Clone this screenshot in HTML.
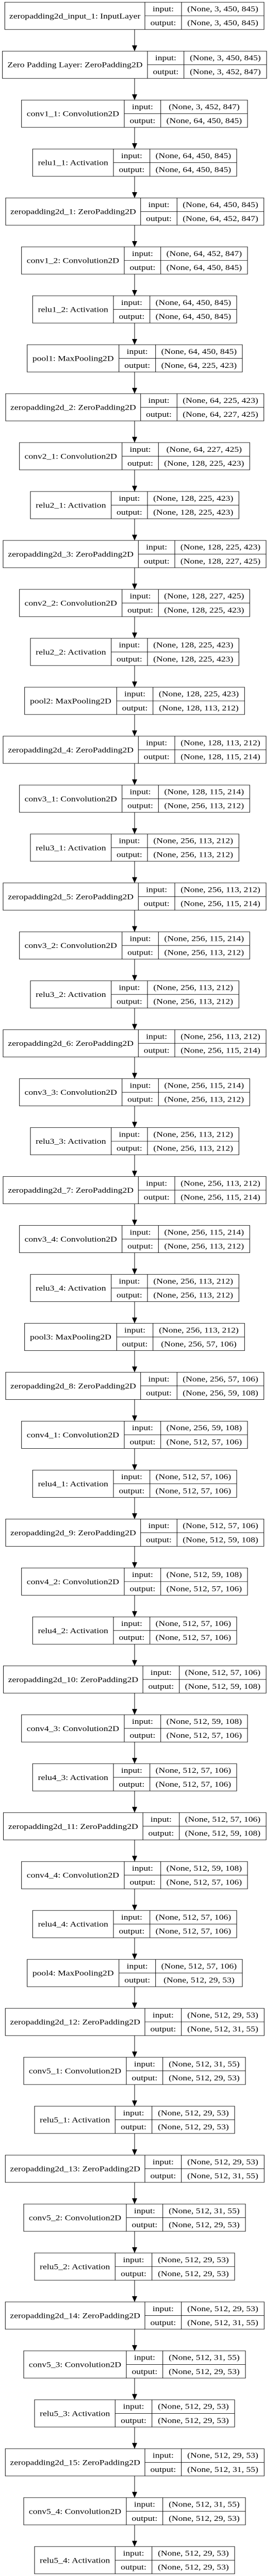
<!DOCTYPE html>
<html><head><meta charset="utf-8"><style>
html,body{margin:0;padding:0;background:#fff;overflow:hidden;}
svg.main{display:block;width:100vw;height:100vh;}
.f rect{fill:#fff;stroke:#000;stroke-width:1;}
.f line{stroke:#000;stroke-width:1;}
text{font-family:"Liberation Serif","Times New Roman",serif;font-size:17.6px;fill:#000;text-anchor:middle;}
</style></head><body>
<svg class="main" viewBox="0 0 543 5828" preserveAspectRatio="none" xmlns="http://www.w3.org/2000/svg" xmlns:xlink="http://www.w3.org/1999/xlink">
<defs>
<g id="fA" class="f"><rect x="9.3" y="0" width="502.7" height="61.7"/><line x1="281" y1="0" x2="281" y2="61.7"/><line x1="352" y1="0" x2="352" y2="61.7"/><line x1="281" y1="30.85" x2="512" y2="30.85"/></g>
<g id="fB" class="f"><rect x="4.7" y="0" width="512.3" height="61.7"/><line x1="286" y1="0" x2="286" y2="61.7"/><line x1="356.7" y1="0" x2="356.7" y2="61.7"/><line x1="286" y1="30.85" x2="517" y2="30.85"/></g>
<g id="fC" class="f"><rect x="41.7" y="0" width="438.3" height="61.7"/><line x1="241" y1="0" x2="241" y2="61.7"/><line x1="311.7" y1="0" x2="311.7" y2="61.7"/><line x1="241" y1="30.85" x2="480" y2="30.85"/></g>
<g id="fD" class="f"><rect x="63.3" y="0" width="395.7" height="61.7"/><line x1="220" y1="0" x2="220" y2="61.7"/><line x1="290.7" y1="0" x2="290.7" y2="61.7"/><line x1="220" y1="30.85" x2="459" y2="30.85"/></g>
<g id="fE" class="f"><rect x="11" y="0" width="500.7" height="61.7"/><line x1="272.7" y1="0" x2="272.7" y2="61.7"/><line x1="343.3" y1="0" x2="343.3" y2="61.7"/><line x1="272.7" y1="30.85" x2="511.7" y2="30.85"/></g>
<g id="fF" class="f"><rect x="52.7" y="0" width="417.3" height="61.7"/><line x1="230.7" y1="0" x2="230.7" y2="61.7"/><line x1="301.7" y1="0" x2="301.7" y2="61.7"/><line x1="230.7" y1="30.85" x2="470" y2="30.85"/></g>
<g id="fG" class="f"><rect x="37.7" y="0" width="446.6" height="61.7"/><line x1="236.7" y1="0" x2="236.7" y2="61.7"/><line x1="307.3" y1="0" x2="307.3" y2="61.7"/><line x1="236.7" y1="30.85" x2="484.3" y2="30.85"/></g>
<g id="fH" class="f"><rect x="59" y="0" width="404.3" height="61.7"/><line x1="215.7" y1="0" x2="215.7" y2="61.7"/><line x1="286" y1="0" x2="286" y2="61.7"/><line x1="215.7" y1="30.85" x2="463.3" y2="30.85"/></g>
<g id="fI" class="f"><rect x="6" y="0" width="510" height="61.7"/><line x1="268.3" y1="0" x2="268.3" y2="61.7"/><line x1="339" y1="0" x2="339" y2="61.7"/><line x1="268.3" y1="30.85" x2="516" y2="30.85"/></g>
<g id="fJ" class="f"><rect x="47.7" y="0" width="426.6" height="61.7"/><line x1="226.3" y1="0" x2="226.3" y2="61.7"/><line x1="296.7" y1="0" x2="296.7" y2="61.7"/><line x1="226.3" y1="30.85" x2="474.3" y2="30.85"/></g>
<g id="fK" class="f"><rect x="6.6" y="0" width="509.5" height="61.7"/><line x1="277.1" y1="0" x2="277.1" y2="61.7"/><line x1="347.7" y1="0" x2="347.7" y2="61.7"/><line x1="277.1" y1="30.85" x2="516.1" y2="30.85"/></g>
<g id="fL" class="f"><rect x="10.3" y="0" width="502" height="61.7"/><line x1="281" y1="0" x2="281" y2="61.7"/><line x1="351.7" y1="0" x2="351.7" y2="61.7"/><line x1="281" y1="30.85" x2="512.3" y2="30.85"/></g>
<g id="fM" class="f"><rect x="46" y="0" width="430" height="61.7"/><line x1="245" y1="0" x2="245" y2="61.7"/><line x1="315.7" y1="0" x2="315.7" y2="61.7"/><line x1="245" y1="30.85" x2="476" y2="30.85"/></g>
<g id="fN" class="f"><rect x="67" y="0" width="388" height="61.7"/><line x1="223.3" y1="0" x2="223.3" y2="61.7"/><line x1="294.7" y1="0" x2="294.7" y2="61.7"/><line x1="223.3" y1="30.85" x2="455" y2="30.85"/></g>
</defs>

<line x1="261" y1="66" x2="261" y2="5761" stroke="#000" stroke-width="1"/>
<g fill="#000">
<polygon points="256,102.7 266,102.7 261,115.7"/><polygon points="256,213.4 266,213.4 261,226.4"/><polygon points="256,324.1 266,324.1 261,337.1"/><polygon points="256,434.8 266,434.8 261,447.8"/><polygon points="256,545.5 266,545.5 261,558.5"/><polygon points="256,656.2 266,656.2 261,669.2"/><polygon points="256,766.9 266,766.9 261,779.9"/><polygon points="256,877.6 266,877.6 261,890.6"/><polygon points="256,988.3 266,988.3 261,1001.3"/><polygon points="256,1099 266,1099 261,1112"/><polygon points="256,1209.7 266,1209.7 261,1222.7"/><polygon points="256,1320.4 266,1320.4 261,1333.4"/><polygon points="256,1431.1 266,1431.1 261,1444.1"/><polygon points="256,1541.8 266,1541.8 261,1554.8"/><polygon points="256,1652.5 266,1652.5 261,1665.5"/><polygon points="256,1763.2 266,1763.2 261,1776.2"/><polygon points="256,1873.9 266,1873.9 261,1886.9"/><polygon points="256,1984.6 266,1984.6 261,1997.6"/><polygon points="256,2095.3 266,2095.3 261,2108.3"/><polygon points="256,2206 266,2206 261,2219"/><polygon points="256,2316.7 266,2316.7 261,2329.7"/><polygon points="256,2427.4 266,2427.4 261,2440.4"/><polygon points="256,2538.1 266,2538.1 261,2551.1"/><polygon points="256,2648.8 266,2648.8 261,2661.8"/><polygon points="256,2759.5 266,2759.5 261,2772.5"/><polygon points="256,2870.2 266,2870.2 261,2883.2"/><polygon points="256,2980.9 266,2980.9 261,2993.9"/><polygon points="256,3091.6 266,3091.6 261,3104.6"/><polygon points="256,3202.3 266,3202.3 261,3215.3"/><polygon points="256,3313 266,3313 261,3326"/><polygon points="256,3423.7 266,3423.7 261,3436.7"/><polygon points="256,3534.4 266,3534.4 261,3547.4"/><polygon points="256,3645.1 266,3645.1 261,3658.1"/><polygon points="256,3755.8 266,3755.8 261,3768.8"/><polygon points="256,3866.5 266,3866.5 261,3879.5"/><polygon points="256,3977.2 266,3977.2 261,3990.2"/><polygon points="256,4087.9 266,4087.9 261,4100.9"/><polygon points="256,4198.6 266,4198.6 261,4211.6"/><polygon points="256,4309.3 266,4309.3 261,4322.3"/><polygon points="256,4420 266,4420 261,4433"/><polygon points="256,4530.7 266,4530.7 261,4543.7"/><polygon points="256,4641.4 266,4641.4 261,4654.4"/><polygon points="256,4752.1 266,4752.1 261,4765.1"/><polygon points="256,4862.8 266,4862.8 261,4875.8"/><polygon points="256,4973.5 266,4973.5 261,4986.5"/><polygon points="256,5084.2 266,5084.2 261,5097.2"/><polygon points="256,5194.9 266,5194.9 261,5207.9"/><polygon points="256,5305.6 266,5305.6 261,5318.6"/><polygon points="256,5416.3 266,5416.3 261,5429.3"/><polygon points="256,5527 266,5527 261,5540"/><polygon points="256,5637.7 266,5637.7 261,5650.7"/><polygon points="256,5748.4 266,5748.4 261,5761.4"/>
</g>

<g transform="translate(0,5)"><use xlink:href="#fA" href="#fA"/><text x="145.2" y="36.7">zeropadding2d_input_1: InputLayer</text><text x="316.5" y="20.7">input:</text><text x="316.5" y="52.3">output:</text><text x="432" y="20.7">(None, 3, 450, 845)</text><text x="432" y="52.3">(None, 3, 450, 845)</text></g>
<g transform="translate(0,115.7)"><use xlink:href="#fB" href="#fB"/><text x="145.4" y="36.7">Zero Padding Layer: ZeroPadding2D</text><text x="321.4" y="20.7">input:</text><text x="321.4" y="52.3">output:</text><text x="436.9" y="20.7">(None, 3, 450, 845)</text><text x="436.9" y="52.3">(None, 3, 452, 847)</text></g>
<g transform="translate(0,226.4)"><use xlink:href="#fC" href="#fC"/><text x="141.4" y="36.7">conv1_1: Convolution2D</text><text x="276.4" y="20.7">input:</text><text x="276.4" y="52.3">output:</text><text x="395.9" y="20.7">(None, 3, 452, 847)</text><text x="395.9" y="52.3">(None, 64, 450, 845)</text></g>
<g transform="translate(0,337.1)"><use xlink:href="#fD" href="#fD"/><text x="141.7" y="36.7">relu1_1: Activation</text><text x="255.4" y="20.7">input:</text><text x="255.4" y="52.3">output:</text><text x="374.9" y="20.7">(None, 64, 450, 845)</text><text x="374.9" y="52.3">(None, 64, 450, 845)</text></g>
<g transform="translate(0,447.8)"><use xlink:href="#fE" href="#fE"/><text x="141.9" y="36.7">zeropadding2d_1: ZeroPadding2D</text><text x="308" y="20.7">input:</text><text x="308" y="52.3">output:</text><text x="427.5" y="20.7">(None, 64, 450, 845)</text><text x="427.5" y="52.3">(None, 64, 452, 847)</text></g>
<g transform="translate(0,558.5)"><use xlink:href="#fC" href="#fC"/><text x="141.4" y="36.7">conv1_2: Convolution2D</text><text x="276.4" y="20.7">input:</text><text x="276.4" y="52.3">output:</text><text x="395.9" y="20.7">(None, 64, 452, 847)</text><text x="395.9" y="52.3">(None, 64, 450, 845)</text></g>
<g transform="translate(0,669.2)"><use xlink:href="#fD" href="#fD"/><text x="141.7" y="36.7">relu1_2: Activation</text><text x="255.4" y="20.7">input:</text><text x="255.4" y="52.3">output:</text><text x="374.9" y="20.7">(None, 64, 450, 845)</text><text x="374.9" y="52.3">(None, 64, 450, 845)</text></g>
<g transform="translate(0,779.9)"><use xlink:href="#fF" href="#fF"/><text x="141.7" y="36.7">pool1: MaxPooling2D</text><text x="266.2" y="20.7">input:</text><text x="266.2" y="52.3">output:</text><text x="385.9" y="20.7">(None, 64, 450, 845)</text><text x="385.9" y="52.3">(None, 64, 225, 423)</text></g>
<g transform="translate(0,890.6)"><use xlink:href="#fE" href="#fE"/><text x="141.9" y="36.7">zeropadding2d_2: ZeroPadding2D</text><text x="308" y="20.7">input:</text><text x="308" y="52.3">output:</text><text x="427.5" y="20.7">(None, 64, 225, 423)</text><text x="427.5" y="52.3">(None, 64, 227, 425)</text></g>
<g transform="translate(0,1001.3)"><use xlink:href="#fG" href="#fG"/><text x="137.2" y="36.7">conv2_1: Convolution2D</text><text x="272" y="20.7">input:</text><text x="272" y="52.3">output:</text><text x="395.8" y="20.7">(None, 64, 227, 425)</text><text x="395.8" y="52.3">(None, 128, 225, 423)</text></g>
<g transform="translate(0,1112)"><use xlink:href="#fH" href="#fH"/><text x="137.4" y="36.7">relu2_1: Activation</text><text x="250.9" y="20.7">input:</text><text x="250.9" y="52.3">output:</text><text x="374.7" y="20.7">(None, 128, 225, 423)</text><text x="374.7" y="52.3">(None, 128, 225, 423)</text></g>
<g transform="translate(0,1222.7)"><use xlink:href="#fI" href="#fI"/><text x="137.2" y="36.7">zeropadding2d_3: ZeroPadding2D</text><text x="303.7" y="20.7">input:</text><text x="303.7" y="52.3">output:</text><text x="427.5" y="20.7">(None, 128, 225, 423)</text><text x="427.5" y="52.3">(None, 128, 227, 425)</text></g>
<g transform="translate(0,1333.4)"><use xlink:href="#fG" href="#fG"/><text x="137.2" y="36.7">conv2_2: Convolution2D</text><text x="272" y="20.7">input:</text><text x="272" y="52.3">output:</text><text x="395.8" y="20.7">(None, 128, 227, 425)</text><text x="395.8" y="52.3">(None, 128, 225, 423)</text></g>
<g transform="translate(0,1444.1)"><use xlink:href="#fH" href="#fH"/><text x="137.4" y="36.7">relu2_2: Activation</text><text x="250.9" y="20.7">input:</text><text x="250.9" y="52.3">output:</text><text x="374.7" y="20.7">(None, 128, 225, 423)</text><text x="374.7" y="52.3">(None, 128, 225, 423)</text></g>
<g transform="translate(0,1554.8)"><use xlink:href="#fJ" href="#fJ"/><text x="137" y="36.7">pool2: MaxPooling2D</text><text x="261.5" y="20.7">input:</text><text x="261.5" y="52.3">output:</text><text x="385.5" y="20.7">(None, 128, 225, 423)</text><text x="385.5" y="52.3">(None, 128, 113, 212)</text></g>
<g transform="translate(0,1665.5)"><use xlink:href="#fI" href="#fI"/><text x="137.2" y="36.7">zeropadding2d_4: ZeroPadding2D</text><text x="303.7" y="20.7">input:</text><text x="303.7" y="52.3">output:</text><text x="427.5" y="20.7">(None, 128, 113, 212)</text><text x="427.5" y="52.3">(None, 128, 115, 214)</text></g>
<g transform="translate(0,1776.2)"><use xlink:href="#fG" href="#fG"/><text x="137.2" y="36.7">conv3_1: Convolution2D</text><text x="272" y="20.7">input:</text><text x="272" y="52.3">output:</text><text x="395.8" y="20.7">(None, 128, 115, 214)</text><text x="395.8" y="52.3">(None, 256, 113, 212)</text></g>
<g transform="translate(0,1886.9)"><use xlink:href="#fH" href="#fH"/><text x="137.4" y="36.7">relu3_1: Activation</text><text x="250.9" y="20.7">input:</text><text x="250.9" y="52.3">output:</text><text x="374.7" y="20.7">(None, 256, 113, 212)</text><text x="374.7" y="52.3">(None, 256, 113, 212)</text></g>
<g transform="translate(0,1997.6)"><use xlink:href="#fI" href="#fI"/><text x="137.2" y="36.7">zeropadding2d_5: ZeroPadding2D</text><text x="303.7" y="20.7">input:</text><text x="303.7" y="52.3">output:</text><text x="427.5" y="20.7">(None, 256, 113, 212)</text><text x="427.5" y="52.3">(None, 256, 115, 214)</text></g>
<g transform="translate(0,2108.3)"><use xlink:href="#fG" href="#fG"/><text x="137.2" y="36.7">conv3_2: Convolution2D</text><text x="272" y="20.7">input:</text><text x="272" y="52.3">output:</text><text x="395.8" y="20.7">(None, 256, 115, 214)</text><text x="395.8" y="52.3">(None, 256, 113, 212)</text></g>
<g transform="translate(0,2219)"><use xlink:href="#fH" href="#fH"/><text x="137.4" y="36.7">relu3_2: Activation</text><text x="250.9" y="20.7">input:</text><text x="250.9" y="52.3">output:</text><text x="374.7" y="20.7">(None, 256, 113, 212)</text><text x="374.7" y="52.3">(None, 256, 113, 212)</text></g>
<g transform="translate(0,2329.7)"><use xlink:href="#fI" href="#fI"/><text x="137.2" y="36.7">zeropadding2d_6: ZeroPadding2D</text><text x="303.7" y="20.7">input:</text><text x="303.7" y="52.3">output:</text><text x="427.5" y="20.7">(None, 256, 113, 212)</text><text x="427.5" y="52.3">(None, 256, 115, 214)</text></g>
<g transform="translate(0,2440.4)"><use xlink:href="#fG" href="#fG"/><text x="137.2" y="36.7">conv3_3: Convolution2D</text><text x="272" y="20.7">input:</text><text x="272" y="52.3">output:</text><text x="395.8" y="20.7">(None, 256, 115, 214)</text><text x="395.8" y="52.3">(None, 256, 113, 212)</text></g>
<g transform="translate(0,2551.1)"><use xlink:href="#fH" href="#fH"/><text x="137.4" y="36.7">relu3_3: Activation</text><text x="250.9" y="20.7">input:</text><text x="250.9" y="52.3">output:</text><text x="374.7" y="20.7">(None, 256, 113, 212)</text><text x="374.7" y="52.3">(None, 256, 113, 212)</text></g>
<g transform="translate(0,2661.8)"><use xlink:href="#fI" href="#fI"/><text x="137.2" y="36.7">zeropadding2d_7: ZeroPadding2D</text><text x="303.7" y="20.7">input:</text><text x="303.7" y="52.3">output:</text><text x="427.5" y="20.7">(None, 256, 113, 212)</text><text x="427.5" y="52.3">(None, 256, 115, 214)</text></g>
<g transform="translate(0,2772.5)"><use xlink:href="#fG" href="#fG"/><text x="137.2" y="36.7">conv3_4: Convolution2D</text><text x="272" y="20.7">input:</text><text x="272" y="52.3">output:</text><text x="395.8" y="20.7">(None, 256, 115, 214)</text><text x="395.8" y="52.3">(None, 256, 113, 212)</text></g>
<g transform="translate(0,2883.2)"><use xlink:href="#fH" href="#fH"/><text x="137.4" y="36.7">relu3_4: Activation</text><text x="250.9" y="20.7">input:</text><text x="250.9" y="52.3">output:</text><text x="374.7" y="20.7">(None, 256, 113, 212)</text><text x="374.7" y="52.3">(None, 256, 113, 212)</text></g>
<g transform="translate(0,2993.9)"><use xlink:href="#fJ" href="#fJ"/><text x="137" y="36.7">pool3: MaxPooling2D</text><text x="261.5" y="20.7">input:</text><text x="261.5" y="52.3">output:</text><text x="385.5" y="20.7">(None, 256, 113, 212)</text><text x="385.5" y="52.3">(None, 256, 57, 106)</text></g>
<g transform="translate(0,3104.6)"><use xlink:href="#fE" href="#fE"/><text x="141.9" y="36.7">zeropadding2d_8: ZeroPadding2D</text><text x="308" y="20.7">input:</text><text x="308" y="52.3">output:</text><text x="427.5" y="20.7">(None, 256, 57, 106)</text><text x="427.5" y="52.3">(None, 256, 59, 108)</text></g>
<g transform="translate(0,3215.3)"><use xlink:href="#fC" href="#fC"/><text x="141.4" y="36.7">conv4_1: Convolution2D</text><text x="276.4" y="20.7">input:</text><text x="276.4" y="52.3">output:</text><text x="395.9" y="20.7">(None, 256, 59, 108)</text><text x="395.9" y="52.3">(None, 512, 57, 106)</text></g>
<g transform="translate(0,3326)"><use xlink:href="#fD" href="#fD"/><text x="141.7" y="36.7">relu4_1: Activation</text><text x="255.4" y="20.7">input:</text><text x="255.4" y="52.3">output:</text><text x="374.9" y="20.7">(None, 512, 57, 106)</text><text x="374.9" y="52.3">(None, 512, 57, 106)</text></g>
<g transform="translate(0,3436.7)"><use xlink:href="#fE" href="#fE"/><text x="141.9" y="36.7">zeropadding2d_9: ZeroPadding2D</text><text x="308" y="20.7">input:</text><text x="308" y="52.3">output:</text><text x="427.5" y="20.7">(None, 512, 57, 106)</text><text x="427.5" y="52.3">(None, 512, 59, 108)</text></g>
<g transform="translate(0,3547.4)"><use xlink:href="#fC" href="#fC"/><text x="141.4" y="36.7">conv4_2: Convolution2D</text><text x="276.4" y="20.7">input:</text><text x="276.4" y="52.3">output:</text><text x="395.9" y="20.7">(None, 512, 59, 108)</text><text x="395.9" y="52.3">(None, 512, 57, 106)</text></g>
<g transform="translate(0,3658.1)"><use xlink:href="#fD" href="#fD"/><text x="141.7" y="36.7">relu4_2: Activation</text><text x="255.4" y="20.7">input:</text><text x="255.4" y="52.3">output:</text><text x="374.9" y="20.7">(None, 512, 57, 106)</text><text x="374.9" y="52.3">(None, 512, 57, 106)</text></g>
<g transform="translate(0,3768.8)"><use xlink:href="#fK" href="#fK"/><text x="141.9" y="36.7">zeropadding2d_10: ZeroPadding2D</text><text x="312.4" y="20.7">input:</text><text x="312.4" y="52.3">output:</text><text x="431.9" y="20.7">(None, 512, 57, 106)</text><text x="431.9" y="52.3">(None, 512, 59, 108)</text></g>
<g transform="translate(0,3879.5)"><use xlink:href="#fC" href="#fC"/><text x="141.4" y="36.7">conv4_3: Convolution2D</text><text x="276.4" y="20.7">input:</text><text x="276.4" y="52.3">output:</text><text x="395.9" y="20.7">(None, 512, 59, 108)</text><text x="395.9" y="52.3">(None, 512, 57, 106)</text></g>
<g transform="translate(0,3990.2)"><use xlink:href="#fD" href="#fD"/><text x="141.7" y="36.7">relu4_3: Activation</text><text x="255.4" y="20.7">input:</text><text x="255.4" y="52.3">output:</text><text x="374.9" y="20.7">(None, 512, 57, 106)</text><text x="374.9" y="52.3">(None, 512, 57, 106)</text></g>
<g transform="translate(0,4100.9)"><use xlink:href="#fK" href="#fK"/><text x="141.9" y="36.7">zeropadding2d_11: ZeroPadding2D</text><text x="312.4" y="20.7">input:</text><text x="312.4" y="52.3">output:</text><text x="431.9" y="20.7">(None, 512, 57, 106)</text><text x="431.9" y="52.3">(None, 512, 59, 108)</text></g>
<g transform="translate(0,4211.6)"><use xlink:href="#fC" href="#fC"/><text x="141.4" y="36.7">conv4_4: Convolution2D</text><text x="276.4" y="20.7">input:</text><text x="276.4" y="52.3">output:</text><text x="395.9" y="20.7">(None, 512, 59, 108)</text><text x="395.9" y="52.3">(None, 512, 57, 106)</text></g>
<g transform="translate(0,4322.3)"><use xlink:href="#fD" href="#fD"/><text x="141.7" y="36.7">relu4_4: Activation</text><text x="255.4" y="20.7">input:</text><text x="255.4" y="52.3">output:</text><text x="374.9" y="20.7">(None, 512, 57, 106)</text><text x="374.9" y="52.3">(None, 512, 57, 106)</text></g>
<g transform="translate(0,4433)"><use xlink:href="#fF" href="#fF"/><text x="141.7" y="36.7">pool4: MaxPooling2D</text><text x="266.2" y="20.7">input:</text><text x="266.2" y="52.3">output:</text><text x="385.9" y="20.7">(None, 512, 57, 106)</text><text x="385.9" y="52.3">(None, 512, 29, 53)</text></g>
<g transform="translate(0,4543.7)"><use xlink:href="#fL" href="#fL"/><text x="145.7" y="36.7">zeropadding2d_12: ZeroPadding2D</text><text x="316.4" y="20.7">input:</text><text x="316.4" y="52.3">output:</text><text x="432" y="20.7">(None, 512, 29, 53)</text><text x="432" y="52.3">(None, 512, 31, 55)</text></g>
<g transform="translate(0,4654.4)"><use xlink:href="#fM" href="#fM"/><text x="145.5" y="36.7">conv5_1: Convolution2D</text><text x="280.4" y="20.7">input:</text><text x="280.4" y="52.3">output:</text><text x="395.9" y="20.7">(None, 512, 31, 55)</text><text x="395.9" y="52.3">(None, 512, 29, 53)</text></g>
<g transform="translate(0,4765.1)"><use xlink:href="#fN" href="#fN"/><text x="145.2" y="36.7">relu5_1: Activation</text><text x="259" y="20.7">input:</text><text x="259" y="52.3">output:</text><text x="374.9" y="20.7">(None, 512, 29, 53)</text><text x="374.9" y="52.3">(None, 512, 29, 53)</text></g>
<g transform="translate(0,4875.8)"><use xlink:href="#fL" href="#fL"/><text x="145.7" y="36.7">zeropadding2d_13: ZeroPadding2D</text><text x="316.4" y="20.7">input:</text><text x="316.4" y="52.3">output:</text><text x="432" y="20.7">(None, 512, 29, 53)</text><text x="432" y="52.3">(None, 512, 31, 55)</text></g>
<g transform="translate(0,4986.5)"><use xlink:href="#fM" href="#fM"/><text x="145.5" y="36.7">conv5_2: Convolution2D</text><text x="280.4" y="20.7">input:</text><text x="280.4" y="52.3">output:</text><text x="395.9" y="20.7">(None, 512, 31, 55)</text><text x="395.9" y="52.3">(None, 512, 29, 53)</text></g>
<g transform="translate(0,5097.2)"><use xlink:href="#fN" href="#fN"/><text x="145.2" y="36.7">relu5_2: Activation</text><text x="259" y="20.7">input:</text><text x="259" y="52.3">output:</text><text x="374.9" y="20.7">(None, 512, 29, 53)</text><text x="374.9" y="52.3">(None, 512, 29, 53)</text></g>
<g transform="translate(0,5207.9)"><use xlink:href="#fL" href="#fL"/><text x="145.7" y="36.7">zeropadding2d_14: ZeroPadding2D</text><text x="316.4" y="20.7">input:</text><text x="316.4" y="52.3">output:</text><text x="432" y="20.7">(None, 512, 29, 53)</text><text x="432" y="52.3">(None, 512, 31, 55)</text></g>
<g transform="translate(0,5318.6)"><use xlink:href="#fM" href="#fM"/><text x="145.5" y="36.7">conv5_3: Convolution2D</text><text x="280.4" y="20.7">input:</text><text x="280.4" y="52.3">output:</text><text x="395.9" y="20.7">(None, 512, 31, 55)</text><text x="395.9" y="52.3">(None, 512, 29, 53)</text></g>
<g transform="translate(0,5429.3)"><use xlink:href="#fN" href="#fN"/><text x="145.2" y="36.7">relu5_3: Activation</text><text x="259" y="20.7">input:</text><text x="259" y="52.3">output:</text><text x="374.9" y="20.7">(None, 512, 29, 53)</text><text x="374.9" y="52.3">(None, 512, 29, 53)</text></g>
<g transform="translate(0,5540)"><use xlink:href="#fL" href="#fL"/><text x="145.7" y="36.7">zeropadding2d_15: ZeroPadding2D</text><text x="316.4" y="20.7">input:</text><text x="316.4" y="52.3">output:</text><text x="432" y="20.7">(None, 512, 29, 53)</text><text x="432" y="52.3">(None, 512, 31, 55)</text></g>
<g transform="translate(0,5650.7)"><use xlink:href="#fM" href="#fM"/><text x="145.5" y="36.7">conv5_4: Convolution2D</text><text x="280.4" y="20.7">input:</text><text x="280.4" y="52.3">output:</text><text x="395.9" y="20.7">(None, 512, 31, 55)</text><text x="395.9" y="52.3">(None, 512, 29, 53)</text></g>
<g transform="translate(0,5761.4)"><use xlink:href="#fN" href="#fN"/><text x="145.2" y="36.7">relu5_4: Activation</text><text x="259" y="20.7">input:</text><text x="259" y="52.3">output:</text><text x="374.9" y="20.7">(None, 512, 29, 53)</text><text x="374.9" y="52.3">(None, 512, 29, 53)</text></g>
</svg>
</body></html>
